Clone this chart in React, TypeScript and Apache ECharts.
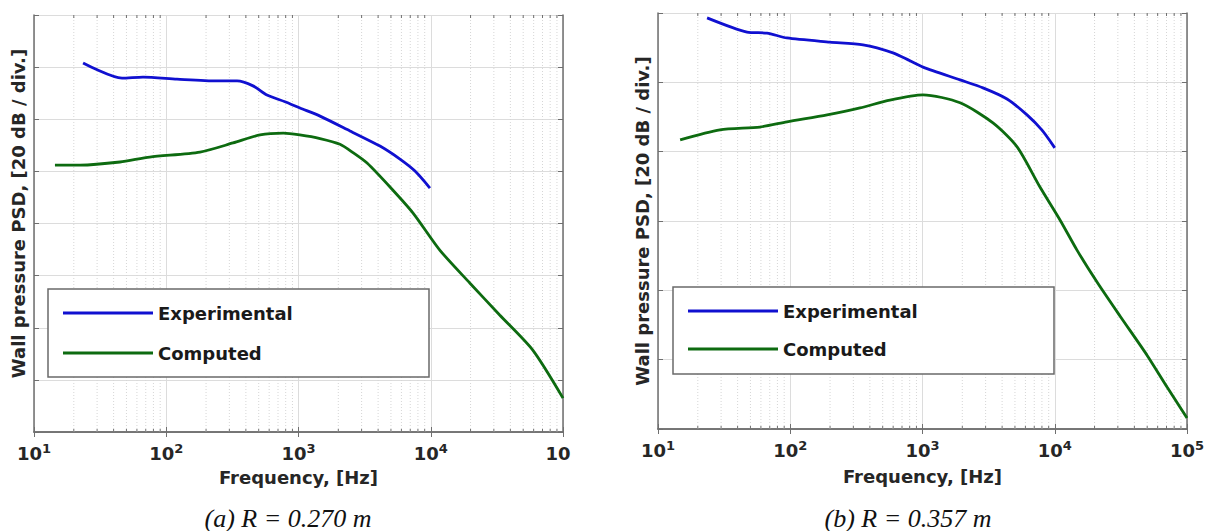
import React, { useEffect, useRef } from "react";
import * as echarts from "echarts";

// ---- Data ----
// Panel (a) R = 0.270 m  (y in arbitrary dB units, 20 dB / div)
const expFreqA = [23.5, 46.3, 66.7, 120.6, 241.9, 342.8, 452.9, 577.8, 790.7, 1026, 1455, 2450, 4130, 5850, 7600, 9860];
const expPsdA = [141.6, 135.8, 136.2, 135.4, 134.7, 134.7, 132.8, 129.3, 126.7, 124.3, 121.2, 115.5, 109.7, 104.7, 100.1, 93.6];
const compFreqA = [14.4, 22.3, 44.7, 75, 180, 320, 512, 768, 1023, 1455, 2060, 2582, 3300, 4920, 7350, 11700, 19800, 33200, 58900, 100000];
const compPsdA = [102.4, 102.4, 103.6, 105.5, 107.4, 110.9, 114.0, 114.7, 114.0, 112.6, 110.4, 107.2, 103.2, 94.0, 84.0, 69.8, 57.1, 44.9, 31.5, 13.0];

// Panel (b) R = 0.357 m
const expFreqB = [23.5, 47.1, 66.7, 94.4, 199.6, 355, 598, 804, 1009, 1923, 2866, 4355, 6170, 8010, 10000];
const expPsdB = [118.6, 114.5, 114.2, 112.8, 111.6, 110.8, 108.5, 106.2, 104.4, 100.7, 98.4, 95.2, 90.6, 86.2, 81.1];
const compFreqB = [14.7, 29.4, 59, 94.4, 190, 337, 567, 1009, 1923, 3410, 5190, 7730, 10960, 14730, 20870, 31130, 49850, 70650, 100000];
const compPsdB = [83.4, 86.3, 87.1, 88.6, 90.6, 92.6, 94.9, 96.4, 94.1, 88.3, 81.4, 69.8, 60.3, 51.6, 42.4, 32.6, 21.3, 12.1, 3.2];

const freqMin = 10;
const freqMax = 100000;
const yMaxA = 160;
const yMaxB = 120;
const yStep = 20;
const minorFreqs = [20, 30, 40, 50, 60, 70, 80, 90, 200, 300, 400, 500, 600, 700, 800, 900, 2000, 3000, 4000, 5000, 6000, 7000, 8000, 9000, 20000, 30000, 40000, 50000, 60000, 70000, 80000, 90000];

const seriesNames = ["Experimental", "Computed"];
const captions = ["(a) R = 0.270 m", "(b) R = 0.357 m"];
const xTitle = "Frequency, [Hz]";
const yTitle = "Wall pressure PSD, [20 dB / div.]";

const BLUE = "#1010d0";
const GREEN = "#0d6b10";
const AXIS = "#6f6f6f";
const TEXT = "#262626";
const FONT = "'DejaVu Sans', sans-serif";

const zip = (xs: number[], ys: number[]) => xs.map((x, i) => [x, ys[i]]);

export default function App() {
  const ref = useRef<HTMLDivElement>(null);

  useEffect(() => {
    if (!ref.current) return;
    const chart = echarts.init(ref.current, undefined, { renderer: "svg" });

    const grids = [
      { left: 34, top: 15, width: 529, height: 417 },
      { left: 658, top: 13, width: 529, height: 416 },
    ];

    const richLabel = {
      b: { fontSize: 18, fontWeight: "bold", fontFamily: FONT, color: TEXT, lineHeight: 22 },
      s: { fontSize: 13, fontWeight: "bold", fontFamily: FONT, color: TEXT, verticalAlign: "top", lineHeight: 13 },
      c: { fontSize: 18, fontWeight: "bold", fontFamily: FONT, color: TEXT, lineHeight: 22, padding: [0, 10, 0, 0] },
    };

    const bottomX = (gi: number, cut: boolean, nameGap: number) => ({
      type: "log",
      logBase: 10,
      gridIndex: gi,
      position: "bottom",
      min: freqMin,
      max: freqMax,
      name: xTitle,
      nameLocation: "middle",
      nameGap,
      nameTextStyle: { fontSize: 18, fontWeight: "bold", fontFamily: FONT, color: TEXT },
      axisLine: { show: true, lineStyle: { color: AXIS, width: 1.5 } },
      axisTick: { show: true, inside: true, length: 5, lineStyle: { color: AXIS } },
      axisLabel: {
        show: true,
        margin: 10,
        showMinLabel: true,
        showMaxLabel: true,
        formatter: (v: number) => {
          const e = Math.round(Math.log10(v));
          if (cut && e === 5) return "{c|10}";
          return `{b|10}{s|${e}}`;
        },
        rich: richLabel,
      },
      splitLine: { show: true, lineStyle: { color: "#dcdcdc", width: 1 } },
    });

    const topX = (gi: number) => ({
      type: "log",
      logBase: 10,
      gridIndex: gi,
      position: "top",
      min: freqMin,
      max: freqMax,
      axisLine: { show: true, lineStyle: { color: AXIS, width: 1.5 } },
      axisTick: { show: true, inside: true, length: 5, lineStyle: { color: AXIS } },
      axisLabel: { show: false },
      splitLine: { show: false },
    });

    const leftY = (gi: number, max: number, pad: number[]) => ({
      type: "value",
      gridIndex: gi,
      position: "left",
      min: 0,
      max,
      interval: yStep,
      name: yTitle,
      nameLocation: "middle",
      nameGap: 7,
      nameTextStyle: { fontSize: 18, fontWeight: "bold", fontFamily: FONT, color: TEXT, padding: pad },
      axisLine: { show: true, lineStyle: { color: AXIS, width: 1.5 } },
      axisTick: { show: true, inside: true, length: 5, lineStyle: { color: AXIS } },
      axisLabel: { show: false },
      splitLine: { show: true, lineStyle: { color: "#dcdcdc", width: 1 } },
    });

    const rightY = (gi: number, max: number) => ({
      type: "value",
      gridIndex: gi,
      position: "right",
      min: 0,
      max,
      interval: yStep,
      axisLine: { show: true, lineStyle: { color: AXIS, width: 1.5 } },
      axisTick: { show: true, inside: true, length: 5, lineStyle: { color: AXIS } },
      axisLabel: { show: false },
      splitLine: { show: false },
    });

    const minorSeries = (xi: number, yi: number, ymax: number) => ({
      type: "custom",
      xAxisIndex: xi,
      yAxisIndex: yi,
      silent: true,
      z: 1,
      encode: { x: 0, y: 1 },
      data: minorFreqs.map((f) => [f, 0]),
      renderItem: (_p: any, api: any) => {
        const f = api.value(0);
        const b = api.coord([f, 0]);
        const t = api.coord([f, ymax]);
        return {
          type: "group",
          children: [
            { type: "line", shape: { x1: b[0], y1: b[1], x2: t[0], y2: t[1] }, style: { stroke: "#d6d6d6", lineWidth: 1, lineDash: [1, 2] } },
            { type: "line", shape: { x1: b[0], y1: b[1], x2: b[0], y2: b[1] - 3 }, style: { stroke: AXIS, lineWidth: 1 } },
            { type: "line", shape: { x1: t[0], y1: t[1], x2: t[0], y2: t[1] + 3 }, style: { stroke: AXIS, lineWidth: 1 } },
          ],
        };
      },
    });

    const lineSeries = (name: string, data: number[][], color: string, xi: number, yi: number) => ({
      type: "line",
      name,
      xAxisIndex: xi,
      yAxisIndex: yi,
      data,
      smooth: 0.25,
      showSymbol: false,
      symbol: "none",
      z: 5,
      lineStyle: { color, width: 2.8 },
      itemStyle: { color },
    });

    const legend = (left: number, top: number, gap: number) => ({
      left,
      top,
      orient: "vertical",
      padding: 0,
      itemWidth: 90,
      itemHeight: 3,
      itemGap: gap,
      z: 10,
      selectedMode: false,
      data: seriesNames.map((n) => ({ name: n, icon: "rect" })),
      textStyle: { fontSize: 18, fontWeight: "bold", fontFamily: FONT, color: "#1a1a1a", lineHeight: 18 },
    });

    chart.setOption({
      animation: false,
      backgroundColor: "#ffffff",
      grid: grids.map((g) => ({ ...g, show: false, containLabel: false })),
      xAxis: [bottomX(0, true, 36), topX(0), bottomX(1, false, 38), topX(1)],
      yAxis: [leftY(0, yMaxA, [0, 0, 0, 20]), rightY(0, yMaxA), leftY(1, yMaxB, [0, 0, 0, 0]), rightY(1, yMaxB)],
      legend: [legend(63, 304, 22), legend(688, 302, 20)],
      series: [
        minorSeries(0, 0, yMaxA),
        minorSeries(2, 2, yMaxB),
        lineSeries(seriesNames[0], zip(expFreqA, expPsdA), BLUE, 0, 0),
        lineSeries(seriesNames[1], zip(compFreqA, compPsdA), GREEN, 0, 0),
        lineSeries(seriesNames[0], zip(expFreqB, expPsdB), BLUE, 2, 2),
        lineSeries(seriesNames[1], zip(compFreqB, compPsdB), GREEN, 2, 2),
      ],
      graphic: [
        { type: "rect", z: 8, shape: { x: 48, y: 289, width: 381, height: 88 }, style: { fill: "#ffffff", stroke: "#6a6a6a", lineWidth: 1.5 } },
        { type: "rect", z: 8, shape: { x: 673, y: 287, width: 381, height: 87 }, style: { fill: "#ffffff", stroke: "#6a6a6a", lineWidth: 1.5 } },
        { type: "text", z: 8, x: 288, y: 518, style: { text: captions[0], font: "italic 26px 'Liberation Serif', serif", fill: "#111", textAlign: "center", textVerticalAlign: "middle" } },
        { type: "text", z: 8, x: 908, y: 518, style: { text: captions[1], font: "italic 26px 'Liberation Serif', serif", fill: "#111", textAlign: "center", textVerticalAlign: "middle" } },
      ],
    });

    return () => chart.dispose();
  }, []);

  return <div ref={ref} style={{ position: "fixed", left: 0, top: 0, width: 1215, height: 531 }} />;
}
